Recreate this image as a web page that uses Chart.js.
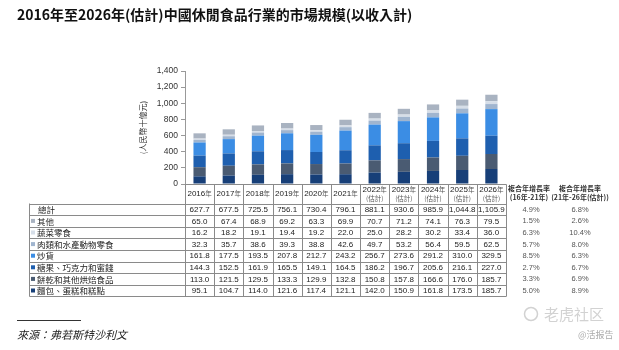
<!DOCTYPE html>
<html>
<head>
<meta charset="utf-8">
<script src="https://cdn.jsdelivr.net/npm/chart.js@4"></script>
<style>
  html, body { margin: 0; padding: 0; background: #fff; }
  #wrap { position: relative; width: 619px; height: 350px; }
</style>
</head>
<body>
<div id="wrap"><canvas id="chart-market" width="619" height="350"></canvas></div>
<script>
// data (人民幣十億元)
const years = ['2016年', '2017年', '2018年', '2019年', '2020年', '2021年', '2022年', '2023年', '2024年', '2025年', '2026年'];
const is_est = [false, false, false, false, false, false, true, true, true, true, true];

const bread    = [95.1, 104.7, 114.0, 121.6, 117.4, 121.1, 142.0, 150.9, 161.8, 173.5, 185.7];
const biscuits = [113.0, 121.5, 129.5, 133.3, 129.9, 132.8, 150.8, 157.8, 166.6, 176.0, 185.7];
const candy    = [144.3, 152.5, 161.9, 165.5, 149.1, 164.5, 186.2, 196.7, 205.6, 216.1, 227.0];
const nuts     = [161.8, 177.5, 193.5, 207.8, 212.7, 243.2, 256.7, 273.6, 291.2, 310.0, 329.5];
const meat     = [32.3, 35.7, 38.6, 39.3, 38.8, 42.6, 49.7, 53.2, 56.4, 59.5, 62.5];
const veg      = [16.2, 18.2, 19.1, 19.4, 19.2, 22.0, 25.0, 28.2, 30.2, 33.4, 36.0];
const other    = [65.0, 67.4, 68.9, 69.2, 63.3, 69.9, 70.7, 71.2, 74.1, 76.3, 79.5];
const total    = [627.7, 677.5, 725.5, 756.1, 730.4, 796.1, 881.1, 930.6, 985.9, 1044.8, 1105.9];

// table rows, top to bottom
const row_labels = ['總計', '其他', '蔬菜零食', '肉類和水產動物零食', '炒貨', '糖果、巧克力和蜜餞', '餅乾和其他烘焙食品', '麵包、蛋糕和糕點'];
const cagr_16_21 = ['4.9%', '1.5%', '6.3%', '5.7%', '8.5%', '2.7%', '3.3%', '5.0%'];
const cagr_21_26 = ['6.8%', '2.6%', '10.4%', '8.0%', '6.3%', '6.7%', '6.9%', '8.9%'];

const y_ticks_max = 1400;
const y_step = 200;

// colours
const C = {
  bread: '#173f78', biscuits: '#4a5b72', candy: '#1e5faf', nuts: '#3b8de4',
  meat: '#a0b5cf', veg: '#d6dee8', other: '#a9b3c1'
};
const row_series = [null, other, veg, meat, nuts, candy, biscuits, bread];
const row_colors = [null, C.other, C.veg, C.meat, C.nuts, C.candy, C.biscuits, C.bread];

const CJK = '"Noto Sans CJK TC", "Noto Sans CJK SC", sans-serif';
const NUM = '"Liberation Sans", Arial, sans-serif';

function fmt1(v) {
  return v.toLocaleString('en-US', { minimumFractionDigits: 1, maximumFractionDigits: 1 });
}

// table + titles under the bars, columns follow the x scale
const table_plugin = {
  id: 'table_plugin',
  afterDraw(chart) {
    const ctx = chart.ctx;
    const xs = chart.scales.x;
    const area = chart.chartArea;
    const col_w = (area.right - area.left) / years.length;
    const head_top = area.bottom + 0.5;
    const row_top = 203.5;
    const row_h = 11.6;
    const tbl_left = 29.5;
    const tbl_right = area.right + 0.5;
    const n_rows = row_labels.length;
    const tbl_bottom = row_top + n_rows * row_h;

    ctx.save();
    ctx.strokeStyle = '#8a8a8a';
    ctx.lineWidth = 1;

    // header box over year columns
    ctx.beginPath();
    ctx.moveTo(area.left + 0.5, head_top);
    ctx.lineTo(tbl_right, head_top);
    for (let i = 0; i <= years.length; i++) {
      const x = Math.round(area.left + i * col_w) + 0.5;
      ctx.moveTo(x, head_top);
      ctx.lineTo(x, tbl_bottom);
    }
    // row lines
    for (let r = 0; r <= n_rows; r++) {
      const y = Math.round(row_top + r * row_h) + 0.5;
      ctx.moveTo(tbl_left, y);
      ctx.lineTo(tbl_right, y);
    }
    ctx.moveTo(tbl_left, row_top);
    ctx.lineTo(tbl_left, Math.round(tbl_bottom) + 0.5);
    ctx.stroke();

    // year headers
    ctx.fillStyle = '#222';
    ctx.textBaseline = 'middle';
    years.forEach((yr, i) => {
      const cx = xs.getPixelForValue(i);
      const yy = is_est[i] ? head_top + 5.5 : head_top + 9;
      const num = yr.replace('年', '');
      ctx.font = '8px ' + NUM;
      const w1 = ctx.measureText(num).width;
      ctx.font = '6.5px ' + CJK;
      const w2 = ctx.measureText('年').width;
      const x0 = cx - (w1 + w2) / 2;
      ctx.textAlign = 'left';
      ctx.font = '8px ' + NUM;
      ctx.fillText(num, x0, yy);
      ctx.font = '6.5px ' + CJK;
      ctx.fillStyle = '#555';
      ctx.fillText('年', x0 + w1, yy);
      ctx.fillStyle = '#222';
      if (is_est[i]) {
        ctx.textAlign = 'center';
        ctx.fillStyle = '#555';
        ctx.fillText('(估計)', cx, head_top + 14);
        ctx.fillStyle = '#222';
      }
    });

    // row labels + values
    row_labels.forEach((lab, r) => {
      const cy = row_top + r * row_h + row_h / 2 + 0.5;
      ctx.textAlign = 'left';
      if (row_colors[r]) {
        ctx.fillStyle = row_colors[r];
        ctx.fillRect(31, cy - 2.5, 4, 4);
        ctx.fillStyle = '#222';
        ctx.font = '8.5px ' + CJK;
        ctx.fillText(lab, 37, cy);
      } else {
        ctx.fillStyle = '#222';
        ctx.font = '8.5px ' + CJK;
        ctx.fillText(lab, 38, cy);
      }
      const vals = r === 0 ? total : row_series[r];
      ctx.font = '8px ' + NUM;
      ctx.textAlign = 'center';
      ctx.fillStyle = '#222';
      vals.forEach((v, i) => {
        ctx.fillText(fmt1(v), xs.getPixelForValue(i), cy);
      });
      // CAGR columns
      ctx.fillStyle = '#555';
      ctx.font = '7.5px ' + NUM;
      ctx.fillText(cagr_16_21[r], 531, cy);
      ctx.fillText(cagr_21_26[r], 580, cy);
    });

    // CAGR headers
    ctx.fillStyle = '#333';
    ctx.textAlign = 'center';
    ctx.font = 'bold 7px ' + CJK;
    ctx.fillText('複合年增長率', 529, 188);
    ctx.fillText('複合年增長率', 580, 188);
    ctx.fillText('(16年-21年)', 529, 197);
    ctx.fillText('(21年-26年(估計))', 580, 197);

    // title
    ctx.fillStyle = '#111';
    ctx.textAlign = 'left';
    ctx.font = 'bold 14px ' + CJK;
    ctx.fillText('2016年至2026年(估計)中國休閒食品行業的市場規模(以收入計)', 17, 15);

    // source
    ctx.strokeStyle = '#333';
    ctx.beginPath();
    ctx.moveTo(17, 320.5);
    ctx.lineTo(81, 320.5);
    ctx.stroke();
    ctx.fillStyle = '#222';
    ctx.font = 'italic 11px ' + CJK;
    ctx.fillText('來源：弗若斯特沙利文', 17, 335);

    // watermark
    ctx.fillStyle = '#d2d2d2';
    ctx.font = '15px "Noto Sans CJK SC", sans-serif';
    ctx.fillText('老虎社区', 544, 314);
    ctx.strokeStyle = '#d2d2d2';
    ctx.lineWidth = 1.5;
    ctx.beginPath();
    ctx.arc(531, 314, 6.5, 0, Math.PI * 2);
    ctx.stroke();
    ctx.fillStyle = '#aaa';
    ctx.font = '9px "Noto Sans CJK SC", sans-serif';
    ctx.fillText('@活报告', 578, 335);

    ctx.restore();
  }
};

function make_set(label, data, color) {
  return { label, data, backgroundColor: color, borderWidth: 0, barPercentage: 0.42, categoryPercentage: 1 };
}

function init_chart() {
  const ctx = document.getElementById('chart-market').getContext('2d');
  return new Chart(ctx, {
    type: 'bar',
    data: {
      labels: years,
      datasets: [
        make_set('麵包、蛋糕和糕點', bread, C.bread),
        make_set('餅乾和其他烘焙食品', biscuits, C.biscuits),
        make_set('糖果、巧克力和蜜餞', candy, C.candy),
        make_set('炒貨', nuts, C.nuts),
        make_set('肉類和水產動物零食', meat, C.meat),
        make_set('蔬菜零食', veg, C.veg),
        make_set('其他', other, C.other)
      ]
    },
    options: {
      responsive: false,
      animation: false,
      layout: { padding: { left: 136, top: 71, right: 113, bottom: 166 } },
      plugins: { legend: { display: false }, tooltip: { enabled: false } },
      scales: {
        x: { stacked: true, display: false, offset: true },
        y: {
          stacked: true,
          min: 0,
          max: y_ticks_max,
          afterFit(scale) { scale.width = 49; },
          ticks: { stepSize: y_step, color: '#333', font: { family: NUM, size: 8.5 }, padding: 3 },
          grid: { drawOnChartArea: false, tickLength: 4, color: '#999' },
          border: { color: '#999' },
          title: { display: true, text: '(人民幣十億元)', color: '#333', font: { family: CJK, size: 8 }, padding: { top: 2, bottom: 2 } }
        }
      }
    },
    plugins: [table_plugin]
  });
}

init_chart();
</script>
</body>
</html>
